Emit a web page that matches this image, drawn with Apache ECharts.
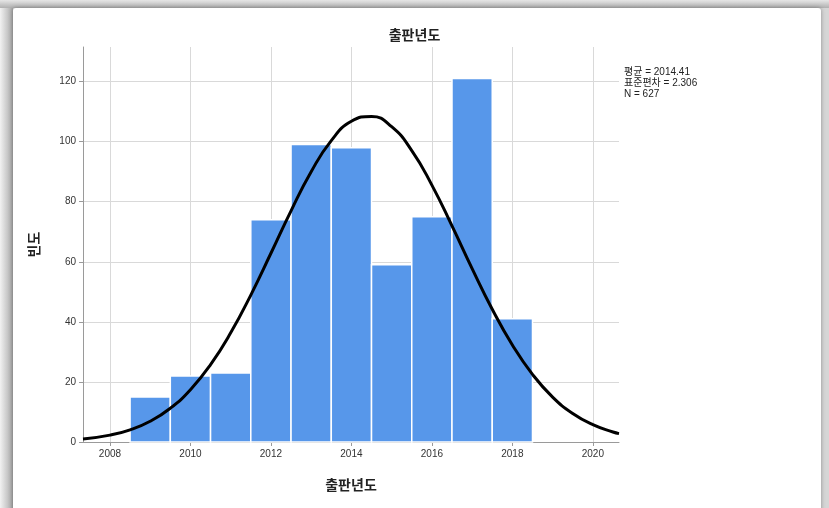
<!DOCTYPE html>
<html>
<head>
<meta charset="utf-8">
<script src="https://cdn.jsdelivr.net/npm/echarts@6/dist/echarts.min.js"></script>
<style>
html,body{margin:0;padding:0;background:#fff;}
#chart{width:829px;height:508px;}
</style>
</head>
<body>
<div id="chart"></div>
<script>
// Histogram bins (centre year, width 1) and frequencies
const binYears = [2009, 2010, 2011, 2012, 2013, 2014, 2015, 2016, 2017, 2018];
const frequencies = [15, 22, 23, 74, 99, 98, 59, 75, 121, 41];
// Fitted normal curve
const curveX = [2007.33, 2008, 2008.5, 2009, 2009.5, 2010, 2010.5, 2011, 2011.5, 2012, 2012.5, 2013, 2013.5, 2014, 2014.5, 2015, 2015.5, 2016, 2016.5, 2017, 2017.5, 2018, 2018.5, 2019, 2019.5, 2020, 2020.5, 2020.65];
const curveY = [0.97, 2.28, 4.06, 6.92, 11.25, 17.42, 25.76, 36.34, 48.92, 62.83, 76.97, 89.97, 100.35, 106.77, 108.39, 104.98, 97.01, 85.52, 71.94, 57.73, 44.20, 32.29, 22.50, 14.96, 9.49, 5.75, 3.32, 2.79];
const xTicks = [2008, 2010, 2012, 2014, 2016, 2018, 2020];
const yTicks = [0, 20, 40, 60, 80, 100, 120];
const titleText = '출판년도';
const xTitle = '출판년도';
const yTitle = '빈도';
const statsLines = ['평균 = 2014.41', '표준편차 = 2.306', 'N = 627'];

const FONT = '"Liberation Sans", "Noto Sans CJK KR", sans-serif';
const KFONT = '"Noto Sans CJK KR", sans-serif';

const chart = echarts.init(document.getElementById('chart'), null, {renderer: 'canvas'});

const barData = binYears.map((y, i) => [y, frequencies[i]]);
const curveData = curveX.map((x, i) => [x, curveY[i]]);

chart.setOption({
  animation: false,
  backgroundColor: '#d6d6d6',
  graphic: [
    {type: 'rect', left: 0, top: 0, shape: {width: 13, height: 508},
     style: {fill: new echarts.graphic.LinearGradient(0, 0, 1, 0, [{offset: 0, color: '#f2f2f2'}, {offset: 1, color: '#a8a8a8'}])}, z: -10, silent: true},
    {type: 'rect', left: 0, top: 0, shape: {width: 829, height: 8},
     style: {fill: new echarts.graphic.LinearGradient(0, 0, 0, 1, [{offset: 0, color: '#e6e6e6'}, {offset: 1, color: '#b0b0b0'}])}, z: -10, silent: true},
    {type: 'rect', left: 13, top: 8, shape: {width: 808, height: 510, r: 3},
     style: {fill: '#ffffff', shadowBlur: 4, shadowColor: 'rgba(0,0,0,0.35)'}, z: -5, silent: true},
    {type: 'text', left: 624, top: 67, z: 10,
     style: {text: statsLines.join('\n'), font: '10px ' + FONT, fill: '#222', lineHeight: 11}}
  ],
  title: {
    text: titleText, left: 'center', top: 23,
    textStyle: {fontFamily: KFONT, fontSize: 14, fontWeight: 'bold', color: '#222'}
  },
  grid: {left: 83, right: 210, top: 47, bottom: 66, containLabel: false},
  xAxis: {
    type: 'value', min: 2007.33, max: 2020.65,
    name: xTitle, nameLocation: 'middle', nameGap: 36,
    nameTextStyle: {fontFamily: KFONT, fontSize: 14, color: '#222', fontWeight: 'bold'},
    axisLine: {show: true, lineStyle: {color: '#9a9a9a', width: 1}},
    axisTick: {show: true, customValues: xTicks, length: 4, lineStyle: {color: '#9a9a9a'}},
    axisLabel: {customValues: xTicks, fontFamily: FONT, fontSize: 10, color: '#333', margin: 7,
      formatter: function (v) { return String(Math.round(v)); }},
    splitLine: {show: true, customValues: xTicks, lineStyle: {color: '#d9d9d9', width: 1}}
  },
  yAxis: {
    type: 'value', min: 0, max: 131.5,
    name: yTitle, nameLocation: 'middle', nameGap: 42, nameRotate: 90,
    nameTextStyle: {fontFamily: KFONT, fontSize: 14, color: '#222', fontWeight: 'bold'},
    axisLine: {show: true, lineStyle: {color: '#9a9a9a', width: 1}},
    axisTick: {show: true, customValues: yTicks, length: 4, lineStyle: {color: '#9a9a9a'}},
    axisLabel: {customValues: yTicks, fontFamily: FONT, fontSize: 10, color: '#333', margin: 7,
      formatter: function (v) { return String(Math.round(v)); }},
    splitLine: {show: true, customValues: yTicks, lineStyle: {color: '#d9d9d9', width: 1}}
  },
  series: [
    {
      type: 'custom',
      data: barData,
      encode: {x: 0, y: 1},
      renderItem: function (params, api) {
        const x = api.value(0), y = api.value(1);
        const p0 = api.coord([x - 0.5, y]);
        const p1 = api.coord([x + 0.5, 0]);
        return {
          type: 'rect',
          shape: {x: p0[0], y: p0[1], width: p1[0] - p0[0], height: p1[1] - p0[1]},
          style: {fill: '#5797ea', stroke: '#ffffff', lineWidth: 1.5}
        };
      },
      z: 2
    },
    {
      type: 'line',
      data: curveData,
      smooth: 0.5,
      showSymbol: false,
      lineStyle: {color: '#000', width: 3},
      z: 5
    }
  ]
});
</script>
</body>
</html>
